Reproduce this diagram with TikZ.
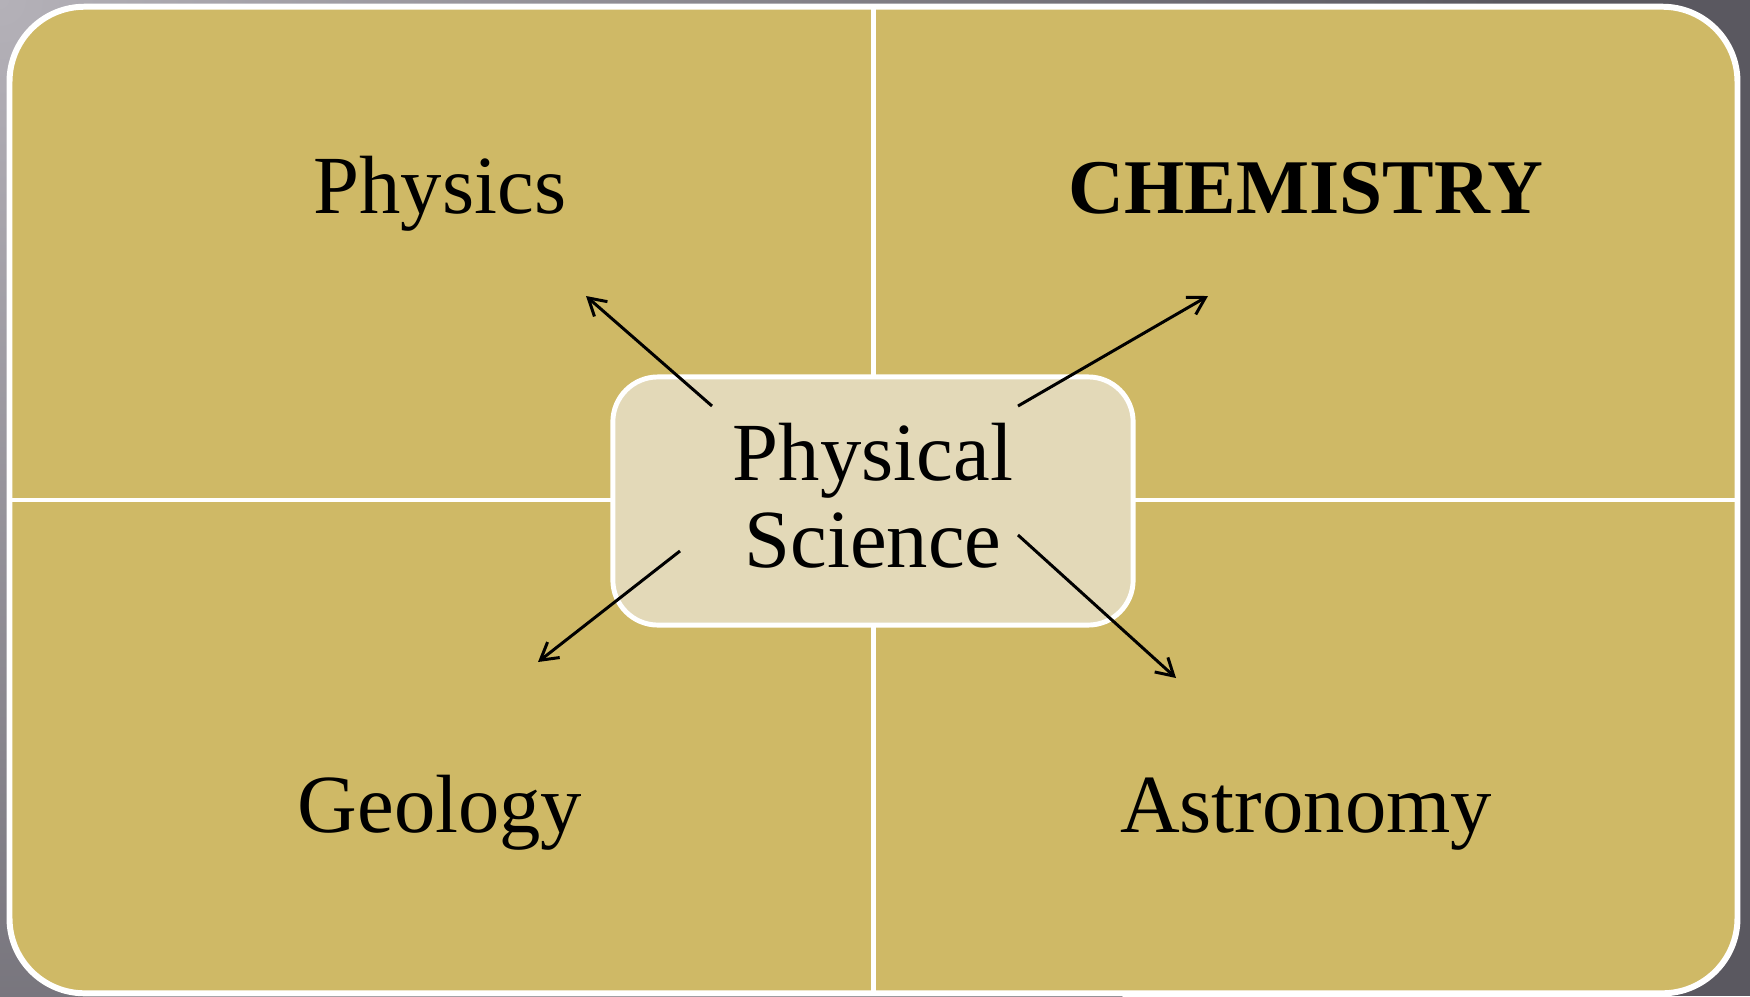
\documentclass[tikz,border=0pt]{standalone}
\usepackage{fontspec}
\setmainfont{Liberation Serif}
\usetikzlibrary{arrows.meta}
\definecolor{bgA}{HTML}{B4B1B8}
\definecolor{bgB}{HTML}{5A5860}
\definecolor{gold}{HTML}{CFB966}
\definecolor{pale}{HTML}{E3D9B8}
\begin{document}
\begin{tikzpicture}[x=0.01cm,y=-0.01cm,
  panel/.style={draw=white, line width=1.7pt, fill=gold, rounded corners=0.75cm,
    minimum width=17.27cm, minimum height=9.86cm, inner sep=0pt, outer sep=0pt},
  divider/.style={draw=white, line width=1.4pt},
  hub/.style={draw=white, line width=1.4pt, fill=pale, rounded corners=0.45cm,
    minimum width=5.2cm, minimum height=2.48cm, inner sep=0pt},
  lbl/.style={font=\fontsize{23.5}{27}\selectfont, text=black, inner sep=0pt, anchor=base},
  arr/.style={draw=black, line width=0.85pt, -{Straight Barb[length=4.8pt,width=5.6pt]}}]
\useasboundingbox (0,0) rectangle (1750,996);
\begin{scope}
  \clip (0,0) rectangle (1750,996);
  \fill[bgB] (0,0) rectangle (1750,996);
  \shade[inner color=bgA, outer color=bgB] (0,0) circle (15cm);
\end{scope}
\node[panel] (frame) at (873.5,500) {};
\draw[divider] (frame.north) -- (frame.south);
\draw[divider] (frame.west) -- (frame.east);
\node[hub] (ps) at (873,501) {};
\node[lbl] (ps1) at (873,480) {Physical};
\node[lbl] (ps2) at (873,567) {Science};
\node[lbl] (phys) at (440,213) {Physics};
\node[lbl, font=\fontsize{22}{25}\selectfont\bfseries] (chem) at (1306,213) {CHEMISTRY};
\node[lbl] (geo) at (440,832) {Geology};
\node[lbl] (astro) at (1306,832) {Astronomy};
\coordinate (tPhys) at (586,296);
\coordinate (tChem) at (1208,296);
\coordinate (tGeo) at (538,662);
\coordinate (tAstro) at (1176,678);
\draw[arr] ([shift={(-161,-95)}]ps.center) -- (tPhys);
\draw[arr] ([shift={(145,-95)}]ps.center) -- (tChem);
\draw[arr] ([shift={(-193,50)}]ps.center) -- (tGeo);
\draw[arr] ([shift={(145,34)}]ps.center) -- (tAstro);
\end{tikzpicture}
\end{document}
